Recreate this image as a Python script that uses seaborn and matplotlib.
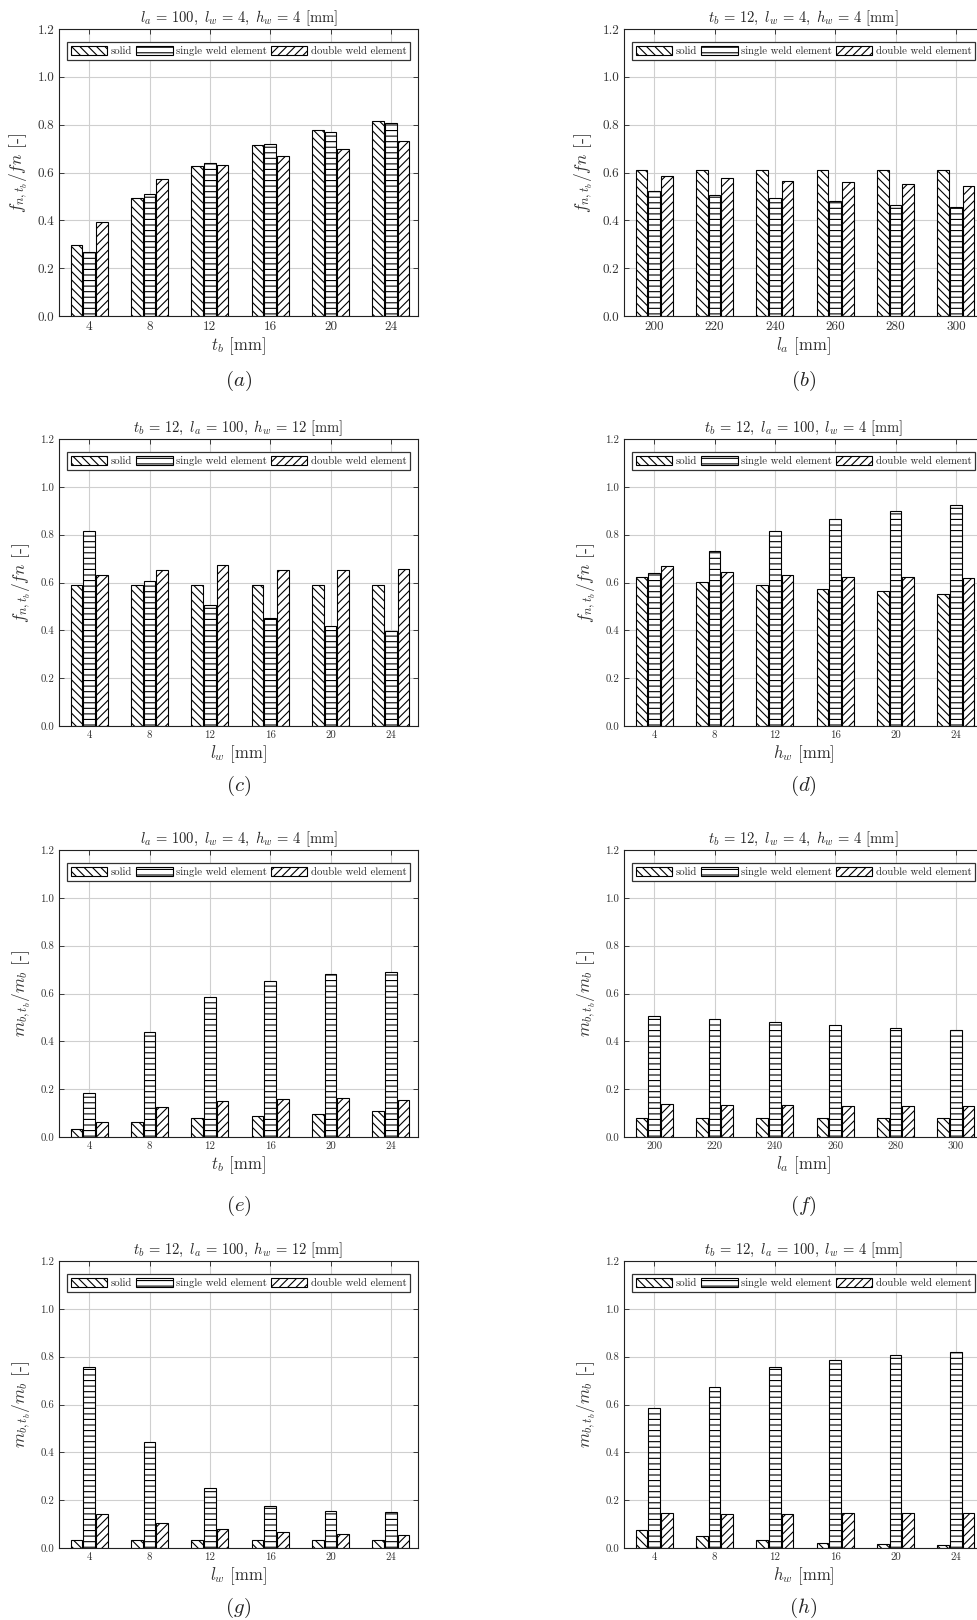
# bar charts: natural frequency / mass ratio vs. weld parameters (8 panels)
import numpy as np
import pandas as pd
import matplotlib
matplotlib.use('Agg')
import matplotlib.pyplot as plt
from matplotlib.patches import Patch
import seaborn as sns

# ---- data ----
series = ['solid', 'single weld element', 'double weld element']
hatches = ['\\\\\\\\', '---', '////']

tb_cats = ['4', '8', '12', '16', '20', '24']
la_cats = ['200', '220', '240', '260', '280', '300']
lw_cats = ['4', '8', '12', '16', '20', '24']
hw_cats = ['4', '8', '12', '16', '20', '24']

# (a) f ratio vs t_b
fa_solid = [0.297, 0.494, 0.627, 0.716, 0.776, 0.814]
fa_single = [0.266, 0.511, 0.641, 0.718, 0.769, 0.805]
fa_double = [0.395, 0.574, 0.630, 0.668, 0.700, 0.730]
# (b) f ratio vs l_a
fb_solid = [0.612, 0.612, 0.612, 0.612, 0.612, 0.612]
fb_single = [0.522, 0.507, 0.492, 0.479, 0.466, 0.455]
fb_double = [0.585, 0.576, 0.566, 0.559, 0.552, 0.545]
# (c) f ratio vs l_w
fc_solid = [0.588, 0.588, 0.588, 0.588, 0.588, 0.588]
fc_single = [0.817, 0.607, 0.504, 0.450, 0.417, 0.399]
fc_double = [0.633, 0.654, 0.675, 0.654, 0.653, 0.658]
# (d) f ratio vs h_w
fd_solid = [0.625, 0.604, 0.588, 0.574, 0.563, 0.553]
fd_single = [0.640, 0.731, 0.817, 0.867, 0.901, 0.925]
fd_double = [0.668, 0.643, 0.633, 0.625, 0.621, 0.619]
# (e) m ratio vs t_b
me_solid = [0.035, 0.062, 0.079, 0.086, 0.096, 0.108]
me_single = [0.186, 0.437, 0.585, 0.652, 0.681, 0.691]
me_double = [0.062, 0.125, 0.150, 0.158, 0.161, 0.155]
# (f) m ratio vs l_a
mf_solid = [0.079, 0.079, 0.079, 0.079, 0.079, 0.079]
mf_single = [0.506, 0.492, 0.481, 0.469, 0.456, 0.447]
mf_double = [0.136, 0.135, 0.132, 0.130, 0.129, 0.128]
# (g) m ratio vs l_w
mg_solid = [0.033, 0.033, 0.033, 0.033, 0.033, 0.033]
mg_single = [0.757, 0.442, 0.249, 0.175, 0.156, 0.149]
mg_double = [0.143, 0.104, 0.081, 0.067, 0.060, 0.054]
# (h) m ratio vs h_w
mh_solid = [0.076, 0.049, 0.033, 0.022, 0.017, 0.013]
mh_single = [0.584, 0.673, 0.758, 0.784, 0.805, 0.821]
mh_double = [0.147, 0.142, 0.143, 0.145, 0.146, 0.146]

title_1 = r'$l_a\,=\,100,\ l_w\,=\,4,\ h_w\,=\,4$ [mm]'
title_2 = r'$t_b\,=\,12,\ l_w\,=\,4,\ h_w\,=\,4$ [mm]'
title_3 = r'$t_b\,=\,12,\ l_a\,=\,100,\ h_w\,=\,12$ [mm]'
title_4 = r'$t_b\,=\,12,\ l_a\,=\,100,\ l_w\,=\,4$ [mm]'
ylab_f = r'$f_{n,t_b}/fn$ [-]'
ylab_m = r'$m_{b,t_b}/m_b$ [-]'

yticks = [0.0, 0.2, 0.4, 0.6, 0.8, 1.0, 1.2]

# panel: (cats, values, title, xlabel, ylabel, tag)
panels = [
    (tb_cats, [fa_solid, fa_single, fa_double], title_1, r'$t_b$ [mm]', ylab_f, '(a)'),
    (la_cats, [fb_solid, fb_single, fb_double], title_2, r'$l_a$ [mm]', ylab_f, '(b)'),
    (lw_cats, [fc_solid, fc_single, fc_double], title_3, r'$l_w$ [mm]', ylab_f, '(c)'),
    (hw_cats, [fd_solid, fd_single, fd_double], title_4, r'$h_w$ [mm]', ylab_f, '(d)'),
    (tb_cats, [me_solid, me_single, me_double], title_1, r'$t_b$ [mm]', ylab_m, '(e)'),
    (la_cats, [mf_solid, mf_single, mf_double], title_2, r'$l_a$ [mm]', ylab_m, '(f)'),
    (lw_cats, [mg_solid, mg_single, mg_double], title_3, r'$l_w$ [mm]', ylab_m, '(g)'),
    (hw_cats, [mh_solid, mh_single, mh_double], title_4, r'$h_w$ [mm]', ylab_m, '(h)'),
]

# ---- style ----
sns.set_style('ticks')
plt.rcParams['font.family'] = 'serif'
plt.rcParams['font.serif'] = ['cmr10', 'DejaVu Serif']
plt.rcParams['mathtext.fontset'] = 'cm'
plt.rcParams['axes.formatter.use_mathtext'] = True
plt.rcParams['hatch.linewidth'] = 0.8

W, H = 977, 1620
fig = plt.figure(figsize=(W / 100, H / 100), dpi=100)

# axes boxes in pixels: left, top, width, height
col_left = [59, 624]
row_top = [29, 439, 850, 1261]
ax_w, ax_h = 359, 287
tag_gap = [65, 60, 69, 60]

label_col = '#333333'

for i, (cats, vals, title, xlab, ylab, tag) in enumerate(panels):
    r, c = i // 2, i % 2
    x0, y0 = col_left[c], row_top[r]
    ax = fig.add_axes([x0 / W, 1 - (y0 + ax_h) / H, ax_w / W, ax_h / H])

    df = pd.DataFrame({
        'x': np.tile(cats, 3),
        'y': np.concatenate(vals),
        'type': np.repeat(series, len(cats)),
    })
    sns.barplot(data=df, x='x', y='y', hue='type', order=cats, hue_order=series,
                palette=['white'] * 3, saturation=1, width=0.63, gap=0.1,
                edgecolor='black', linewidth=0.8, legend=False, ax=ax, zorder=2)
    for cont, h in zip(ax.containers, hatches):
        for p in cont:
            p.set_hatch(h)

    small = i >= 2
    tfs = 7.8 if small else 9.5
    ax.set_xlim(-0.5, 5.45)
    ax.set_ylim(0, 1.2)
    ax.set_yticks(yticks)
    ax.set_yticklabels([f'{v:.1f}' for v in yticks])
    ax.tick_params(direction='in', top=True, right=True, length=3.5, width=0.6,
                   labelsize=tfs, labelcolor=label_col, color='#222222')
    ax.grid(True, color='#cfcfcf', linewidth=0.8)
    ax.set_axisbelow(True)
    for s in ax.spines.values():
        s.set_linewidth(0.8)
        s.set_color('#222222')

    ax.set_title(title, fontsize=10.5, pad=5)
    ax.set_xlabel(xlab, fontsize=12, color=label_col, labelpad=2)
    ax.set_ylabel(ylab, fontsize=12.5, color=label_col, labelpad=5)

    handles = [Patch(facecolor='white', edgecolor='black', hatch=h, label=s, linewidth=0.8)
               for s, h in zip(series, hatches)]
    leg = ax.legend(handles=handles, loc='upper center', bbox_to_anchor=(0.5, 0.953),
                    ncol=3, fontsize=7.8, handlelength=3.4, handleheight=1.0,
                    handletextpad=0.3, columnspacing=0.35, borderpad=0.3,
                    borderaxespad=0, frameon=True, fancybox=False, framealpha=1)
    leg.get_frame().set_edgecolor('#333333')
    leg.get_frame().set_linewidth(0.9)

    # sub-figure tag below each panel
    cx = x0 + ax_w / 2
    ty = y0 + ax_h + tag_gap[r]
    fig.text(cx / W, 1 - ty / H, '$' + tag + '$', fontsize=15, ha='center', va='center')

plt.savefig('out.png', dpi=100)
